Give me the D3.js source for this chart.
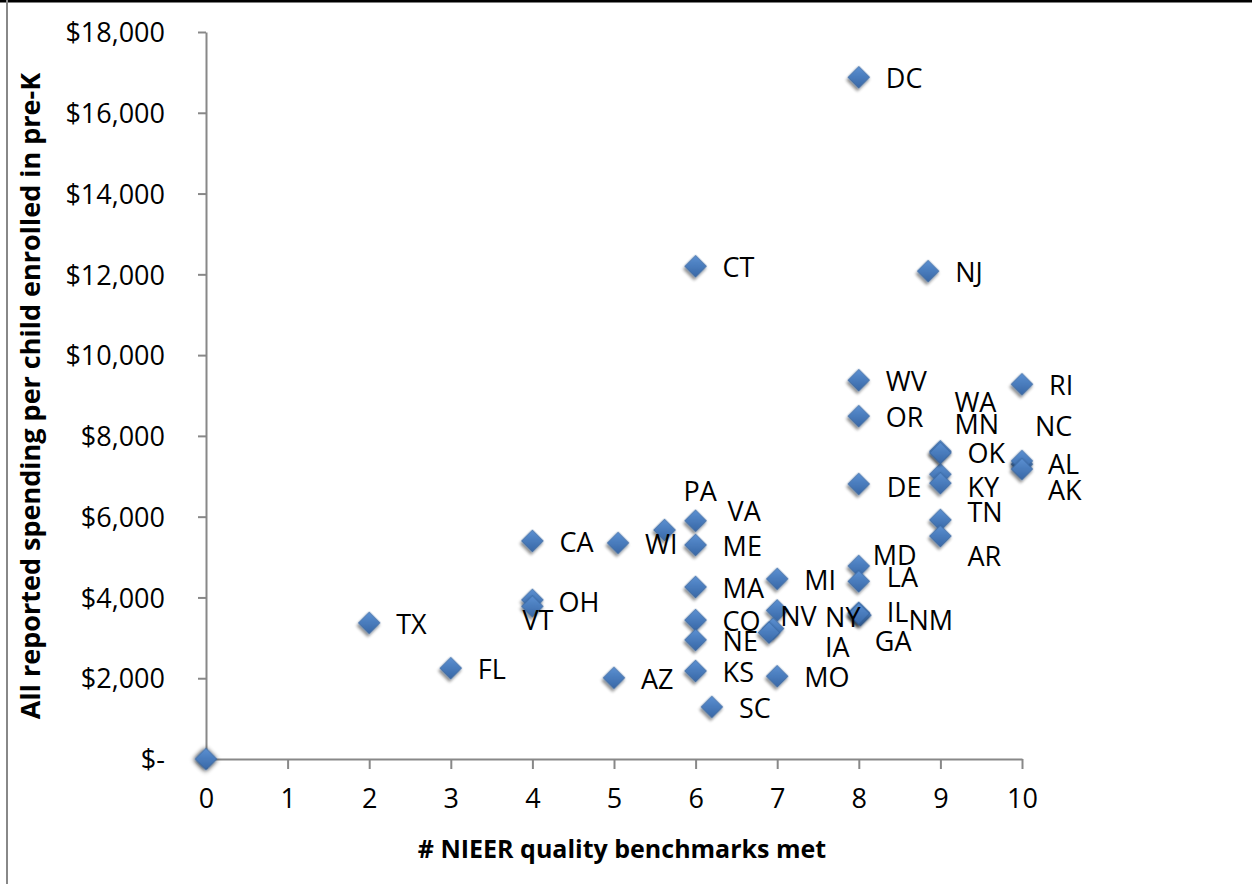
<!DOCTYPE html>
<html><head><meta charset="utf-8">
<script src="https://cdn.jsdelivr.net/npm/d3@7"></script>
<style>body{margin:0;background:#fff;}svg{display:block;}</style>
</head><body>
<script>
const states = ["DC","CT","NJ","WV","RI","OR","WA","MN","OK","NC","AL","AK","KY","TN","AR","DE","MD","LA","IL","NM","GA","MI","NV","NY","IA","MO","PA","VA","ME","WI","CA","MA","OH","VT","CO","NE","KS","AZ","SC","TX","FL",""];
const benchmarks = [8,6,8.85,8,10,8,9,9,9,10,10,10,9,9,9,8,8,8,8,8.02,8,7,7,6.95,6.9,7,5.62,6,6,5.05,4,6,4,4,6,6,6,5,6.2,2,3,0];
const spending = [16880,12200,12080,9380,9280,8490,7620,7050,7580,7300,7380,7180,6830,5920,5520,6810,4780,4400,3620,3560,3600,4460,3680,3230,3130,2050,5670,5900,5300,5350,5400,4260,3940,3780,3440,2950,2180,2010,1290,3370,2250,0];
const yTicks = [0,2000,4000,6000,8000,10000,12000,14000,16000,18000];
const xTicks = [0,1,2,3,4,5,6,7,8,9,10];
const xTitle = "# NIEER quality benchmarks met";
const yTitle = "All reported spending per child enrolled in pre-K";
// label offsets in px (dx, dy) from each state's own marker
const labelOffsets = {
  WA:[14,-49], MN:[14,-50], OK:[27,0], NC:[13,-38], AL:[26,3], AK:[26,21], KY:[27,4],
  TN:[27,-8], AR:[27,20], DE:[28,3], MD:[14,-11], LA:[28,-4], IL:[28,-1], NM:[48,5], GA:[16,28],
  NV:[3,6], NY:[52,-11], IA:[56,15], PA:[19,-39], VA:[32,-9], OH:[26,2], VT:[-10,14]
};

const W = 1252, H = 884;
const svg = d3.select("body").append("svg").attr("width", W).attr("height", H);
const defs = svg.append("defs");
const grad = defs.append("linearGradient").attr("id","dg").attr("x1","0").attr("y1","0").attr("x2","1").attr("y2","1");
grad.append("stop").attr("offset","0%").attr("stop-color","#5b90d2");
grad.append("stop").attr("offset","100%").attr("stop-color","#3767a6");
const f = defs.append("filter").attr("id","sh").attr("x","-50%").attr("y","-50%").attr("width","200%").attr("height","200%");
f.append("feGaussianBlur").attr("in","SourceAlpha").attr("stdDeviation",1.6).attr("result","b");
f.append("feOffset").attr("in","b").attr("dx",1).attr("dy",2.5).attr("result","o");
f.append("feComponentTransfer").attr("in","o").attr("result","o2").append("feFuncA").attr("type","linear").attr("slope",0.45);
const fm = f.append("feMerge"); fm.append("feMergeNode").attr("in","o2"); fm.append("feMergeNode").attr("in","SourceGraphic");
const f2 = defs.append("filter").attr("id","sh2").attr("x","-80%").attr("y","-80%").attr("width","260%").attr("height","260%");
f2.append("feGaussianBlur").attr("in","SourceAlpha").attr("stdDeviation",2.5).attr("result","b");
f2.append("feOffset").attr("in","b").attr("dx",0).attr("dy",1).attr("result","o");
const fm2 = f2.append("feMerge"); fm2.append("feMergeNode").attr("in","o"); fm2.append("feMergeNode").attr("in","SourceGraphic");

// frame
svg.append("line").attr("x1",0).attr("x2",W).attr("y1",1).attr("y2",1).attr("stroke","#000").attr("stroke-width",3);
svg.append("line").attr("x1",7).attr("x2",7).attr("y1",0).attr("y2",H).attr("stroke","#888").attr("stroke-width",2);

const x = d3.scaleLinear().domain([0,10]).range([206,1022]);
const y = d3.scaleLinear().domain([0,18000]).range([759,32]);
const font = "'Open Sans', 'Noto Sans', sans-serif";
const fs = 27;

const fmt = v => v === 0 ? "$-" : "$" + d3.format(",")(v);
const yAxis = svg.append("g").attr("transform","translate(206,0)")
  .call(d3.axisLeft(y).tickValues(yTicks).tickFormat(fmt).tickSize(8).tickSizeOuter(0).tickPadding(33));
const xAxis = svg.append("g").attr("transform","translate(0,759)")
  .call(d3.axisBottom(x).tickValues(xTicks).tickSize(10).tickSizeOuter(0).tickPadding(20));
[yAxis,xAxis].forEach(g=>{
  g.selectAll("path,line").attr("stroke","#888").attr("stroke-width",2);
  g.selectAll("text").attr("font-family",font).attr("font-size",fs).attr("fill","#000");
});
xAxis.selectAll("text").attr("dy","0.71em");
yAxis.selectAll("text").attr("dy","0.36em");

svg.append("text").attr("x",622).attr("y",858).attr("text-anchor","middle")
  .attr("font-family",font).attr("font-weight","bold").attr("font-size",25).text(xTitle);
svg.append("text").attr("transform","translate(40,396) rotate(-90)").attr("text-anchor","middle")
  .attr("font-family",font).attr("font-weight","bold").attr("font-size",27).text(yTitle);

const data = states.map((s,i)=>({s, b:benchmarks[i], v:spending[i]}));
const sym = d3.symbol().type(d3.symbolSquare).size(240);
svg.append("g").selectAll("path").data(data).join("path")
  .attr("d", sym)
  .attr("transform", d=>`translate(${x(d.b)},${y(d.v)}) rotate(45)`)
  .attr("fill","url(#dg)").attr("stroke","#2f5d95").attr("stroke-width",0.6)
  .attr("filter", d=> d.s==="" ? "url(#sh2)" : "url(#sh)");

svg.append("g").selectAll("text").data(data.filter(d=>d.s!=="")).join("text")
  .attr("x", d=> x(d.b) + (labelOffsets[d.s] ? labelOffsets[d.s][0] : 27))
  .attr("y", d=> y(d.v) + (labelOffsets[d.s] ? labelOffsets[d.s][1] : 1))
  .attr("dy","0.36em")
  .attr("font-family",font).attr("font-size",fs).attr("fill","#000")
  .text(d=>d.s);
</script>
</body></html>
